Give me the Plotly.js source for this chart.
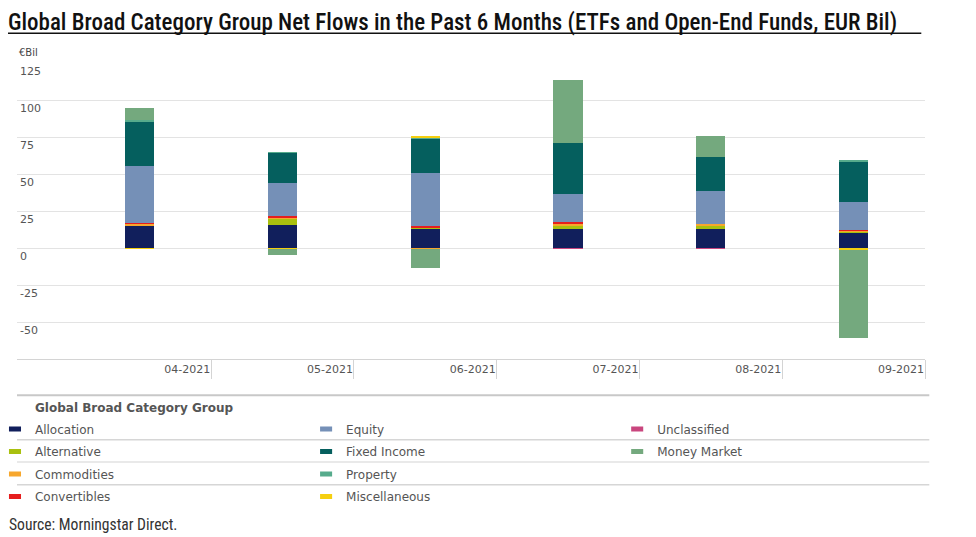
<!DOCTYPE html>
<html>
<head>
<meta charset="utf-8">
<script src="https://cdn.plot.ly/plotly-3.0.1.min.js"></script>
<style>html,body{margin:0;padding:0;background:#fff;}#chart{width:976px;height:537px;}</style>
</head>
<body>
<div id="chart"></div>
<script>
// ---- data (EUR billions) ----
var months = ['04-2021', '05-2021', '06-2021', '07-2021', '08-2021', '09-2021'];
var allocation    = [15.0, 15.7, 13.0, 12.8, 13.5, 10.8];
var alternative   = [0.2, 3.9, 1.0, 2.6, 1.2, 0.5];
var commodities   = [1.2, 1.3, -0.7, 1.0, 1.5, 0.6];
var convertibles  = [0.8, 0.9, 0.6, 0.9, 0.0, 0.4];
var equity        = [38.3, 22.0, 36.0, 19.1, 22.0, 18.7];
var fixedIncome   = [29.9, 20.7, 23.6, 34.8, 23.6, 27.4];
var property      = [1.4, 0.2, 0.2, 0.0, 0.0, 0.6];
var miscellaneous = [-0.6, -0.9, 1.3, 0.0, 0.0, -1.1];
var unclassified  = [0.0, 0.0, 0.0, -0.5, -0.5, 0.0];
var moneyMarket   = [7.6, -4.1, -12.5, 42.3, 14.1, -59.6];
var yTickVals  = [-50, -25, 0, 25, 50, 75, 100, 125];
var yTickText  = ['-50', '-25', '0', '25', '50', '75', '100', '125'];

var xIdx = months.map(function (m, i) { return i; });
var xTickVals = months.map(function (m, i) { return i + 0.5; });

var series = [
  {name: 'Allocation',    y: allocation,    color: '#111f5c', legend: 'legend'},
  {name: 'Alternative',   y: alternative,   color: '#a9c00f', legend: 'legend'},
  {name: 'Commodities',   y: commodities,   color: '#f7a72d', legend: 'legend'},
  {name: 'Convertibles',  y: convertibles,  color: '#e61e1e', legend: 'legend'},
  {name: 'Equity',        y: equity,        color: '#7590b7', legend: 'legend2'},
  {name: 'Fixed Income',  y: fixedIncome,   color: '#055f5e', legend: 'legend2'},
  {name: 'Property',      y: property,      color: '#56ab8c', legend: 'legend2'},
  {name: 'Miscellaneous', y: miscellaneous, color: '#f5cf10', legend: 'legend2'},
  {name: 'Unclassified',  y: unclassified,  color: '#c9467e', legend: 'legend3'},
  {name: 'Money Market',  y: moneyMarket,   color: '#74a97e', legend: 'legend3'}
];

// stacked bars (legend entries are drawn by marker-only twins below)
var traces = series.map(function (s) {
  return {
    type: 'bar', name: s.name, x: xIdx, y: s.y, width: 0.205,
    marker: {color: s.color, line: {width: 0}},
    legendgroup: s.name, showlegend: false,
    hovertemplate: s.name + ': %{y}<extra></extra>'
  };
});
// legend keys: thin horizontal bars, grouped with their series
series.forEach(function (s) {
  traces.push({
    type: 'scatter', mode: 'markers', name: s.name, x: [null], y: [null],
    marker: {symbol: 'line-ew', size: 8.6, color: s.color, line: {color: s.color, width: 5}},
    legend: s.legend, legendgroup: s.name, showlegend: true, hoverinfo: 'skip'
  });
});

// pixel helpers for layout placement (plot area: x 17..924.7, y 62.7..359.3)
var PL = 17, PR = 924.7, PT = 62.7, PB = 359.3;
function px(x) { return (x - PL) / (PR - PL); }
function py(y) { return (PB - y) / (PB - PT); }

var legendFont = {family: 'DejaVu Sans, Verdana, sans-serif', size: 12, color: '#555'};
function legendAt(xp) {
  return {x: px(xp), xanchor: 'left', y: py(415), yanchor: 'top', orientation: 'v',
          font: legendFont, bgcolor: 'rgba(0,0,0,0)', borderwidth: 0,
          tracegroupgap: 3.5, traceorder: 'grouped'};
}

function hline(y, x0, x1, color, w) {
  return {type: 'line', xref: 'paper', yref: 'paper', x0: px(x0), x1: px(x1), y0: py(y), y1: py(y),
          line: {color: color, width: w}};
}

var narrow = 'Roboto Condensed, Liberation Sans Narrow, Arial Narrow, DejaVu Sans Condensed, sans-serif';

var layout = {
  width: 976, height: 537,
  margin: {l: PL, r: 976 - PR, t: PT, b: 537 - PB, pad: 0, autoexpand: false},
  paper_bgcolor: '#fff', plot_bgcolor: '#fff',
  barmode: 'relative', bargap: 0,
  title: {
    text: 'Global Broad Category Group Net Flows in the Past 6 Months (ETFs and Open-End Funds, EUR Bil)',
    x: 8 / 976, xref: 'container', xanchor: 'left',
    y: 1 - 22 / 537, yref: 'container', yanchor: 'middle',
    font: {family: narrow, size: 23, weight: 500, color: '#111'}
  },
  xaxis: {
    range: [-0.86, 5.5], tickvals: xTickVals, ticktext: months,
    showgrid: false, zeroline: false, showline: true, linecolor: '#d4d4d4', linewidth: 1,
    ticks: 'outside', ticklen: 19, tickcolor: '#d4d4d4', tickwidth: 1,
    ticklabelposition: 'outside left', ticklabelstandoff: 0,
    tickfont: {family: 'DejaVu Sans, Verdana, sans-serif', size: 11, color: '#555'},
    fixedrange: true
  },
  yaxis: {
    range: [-75, 125], tickvals: yTickVals, ticktext: yTickText,
    showgrid: true, gridcolor: '#e3e3e3', gridwidth: 1,
    zeroline: true, zerolinecolor: '#e3e3e3', zerolinewidth: 1,
    showline: false, ticks: '',
    ticklabelposition: 'inside bottom',
    tickfont: {family: 'DejaVu Sans, Verdana, sans-serif', size: 11, color: '#555'},
    fixedrange: true
  },
  legend: legendAt(-5),
  legend2: legendAt(306),
  legend3: legendAt(617),
  shapes: [
    {type: 'line', xref: 'paper', yref: 'paper', x0: px(8), x1: px(921), y0: py(33), y1: py(33),
     line: {color: '#111', width: 1.5}},
    hline(395.7, 17, 929, '#c8c8c8', 2),
    hline(440.3, 17, 929, '#d6d6d6', 1.5),
    hline(462.6, 17, 929, '#e2e2e2', 1.5),
    hline(485.3, 17, 929, '#d6d6d6', 1.5)
  ],
  annotations: [
    {text: '€Bil', xref: 'paper', yref: 'paper', x: px(17), y: py(52), xanchor: 'left', yanchor: 'middle',
     showarrow: false, font: {family: 'DejaVu Sans, Verdana, sans-serif', size: 10, color: '#444'}},
    {text: '<b>Global Broad Category Group</b>', xref: 'paper', yref: 'paper', x: px(33), y: py(408),
     xanchor: 'left', yanchor: 'middle', showarrow: false,
     font: {family: 'DejaVu Sans, Verdana, sans-serif', size: 12, color: '#555'}},
    {text: 'Source: Morningstar Direct.', xref: 'paper', yref: 'paper', x: px(7), y: py(526),
     xanchor: 'left', yanchor: 'middle', showarrow: false,
     font: {family: narrow, size: 15.6, color: '#333'}}
  ],
  showlegend: true
};

Plotly.newPlot('chart', traces, layout, {displayModeBar: false});
</script>
</body>
</html>
